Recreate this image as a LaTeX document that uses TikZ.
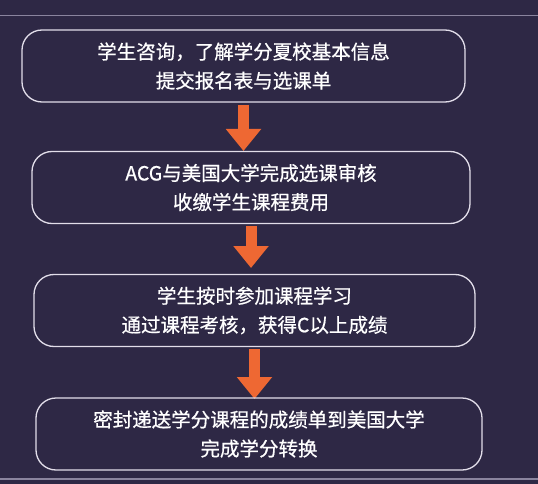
\documentclass[tikz,border=0pt]{standalone}
\usepackage{fontspec}
\setmainfont{Noto Sans CJK SC}[FakeBold=0.7]
\usepackage{tikz}
\usetikzlibrary{arrows.meta}
\definecolor{bgpurple}{HTML}{2E2845}
\definecolor{boxline}{HTML}{E2DEEA}
\definecolor{arroworange}{HTML}{EE6833}
\definecolor{ruleline}{HTML}{8A849E}

\begin{document}
\begin{tikzpicture}[x=1pt,y=-1pt,
		stepbox/.style={rectangle, draw=boxline, line width=1.3pt, rounded corners=20pt, align=center, text=white, minimum height=72pt, inner sep=0pt, font=\fontsize{19.5}{29}\selectfont},
		flowarrow/.style={draw=arroworange, line width=11pt, -{Triangle[width=34pt,length=22pt]}, shorten <=2pt, shorten >=1pt}]
			\useasboundingbox (0,0) rectangle (538,484);
			\fill[bgpurple] (-2,-2) rectangle (540,486);
			\draw[ruleline, line width=1.2pt] (-2,15.5)--(540,15.5);
			\draw[ruleline, line width=1.2pt] (-2,479)--(540,479);
			
			\node[stepbox, minimum width=443pt] (consult) at (243.5,66){学生咨询，了解学分夏校基本信息\\提交报名表与选课单};
			\draw[flowarrow] (consult.south)--(consult.south |- 0,152);
			
			\node[stepbox, minimum width=438pt] (review) at (251,187.5){ACG与美国大学完成选课审核\\收缴学生课程费用};
			\draw[flowarrow] (review.south)--(review.south |- 0,269);
			
			\node[stepbox, minimum width=441pt] (study) at (254.5,310.5){学生按时参加课程学习\\通过课程考核，获得C以上成绩};
			\draw[flowarrow] (study.south)--(study.south |- 0,400);
			
			\node[stepbox, minimum width=446pt] (transfer) at (259,434){密封递送学分课程的成绩单到美国大学\\完成学分转换};
		\end{tikzpicture}
\end{document}
